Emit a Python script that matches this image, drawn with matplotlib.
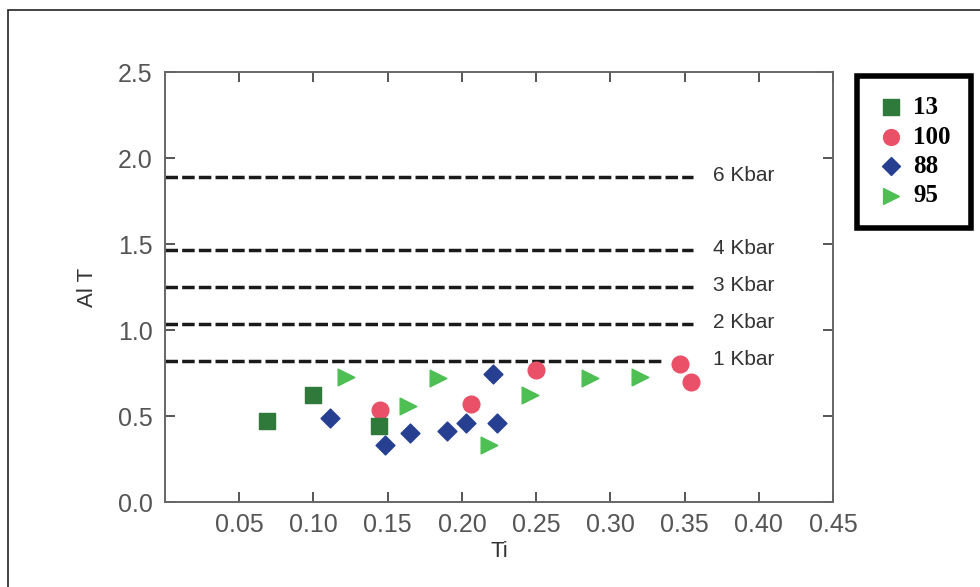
import matplotlib
matplotlib.use("Agg")
import matplotlib.pyplot as plt
from matplotlib.patches import Rectangle

# sample groups: Ti vs Al T
ti_13 = [0.069, 0.100, 0.144]
al_13 = [0.47, 0.62, 0.44]

ti_100 = [0.145, 0.206, 0.250, 0.347, 0.354]
al_100 = [0.535, 0.57, 0.77, 0.80, 0.70]

ti_88 = [0.111, 0.148, 0.165, 0.190, 0.2025, 0.221, 0.2235]
al_88 = [0.49, 0.33, 0.40, 0.41, 0.46, 0.745, 0.46]

ti_95 = [0.122, 0.164, 0.184, 0.218, 0.246, 0.2865, 0.320]
al_95 = [0.725, 0.56, 0.72, 0.33, 0.62, 0.72, 0.725]

# pressure isobars: (Al T level, x end, label)
bar_levels = [1.89, 1.465, 1.25, 1.035, 0.82]
bar_ends = [0.356, 0.356, 0.356, 0.356, 0.336]
bar_labels = ["6 Kbar", "4 Kbar", "3 Kbar", "2 Kbar", "1 Kbar"]

xticks = [0.05, 0.10, 0.15, 0.20, 0.25, 0.30, 0.35, 0.40, 0.45]
yticks = [0.0, 0.5, 1.0, 1.5, 2.0, 2.5]

plt.rcParams['font.family'] = ['Liberation Sans', 'DejaVu Sans']

fig = plt.figure(figsize=(9.8, 5.87), dpi=100, facecolor='w')
# thin frame around the figure
fig.patches.append(Rectangle((8 / 980, -0.1), 1.2, 1 - 10 / 587 + 0.1,
                             transform=fig.transFigure, fill=False,
                             edgecolor='#222222', linewidth=1.2))

ax = fig.add_axes([0.1684, 0.1448, 0.6816, 0.7325])

for lev, xe, lab in zip(bar_levels, bar_ends, bar_labels):
    ax.plot([0, xe], [lev, lev], color='#1a1a1a', linewidth=2.5,
            dashes=(3.6, 1.2), zorder=1)
    ax.text(0.369, lev + 0.01, lab, fontsize=15, color='#333333',
            va='center', ha='left')

ms = 12
ax.scatter(ti_13, al_13, marker='s', s=ms ** 2, color='#2f7a3a', zorder=3, label='13')
ax.scatter(ti_100, al_100, marker='o', s=ms ** 2, color='#ea5068', zorder=2, label='100')
ax.scatter(ti_88, al_88, marker='D', s=(ms * 0.8) ** 2, color='#263f91', zorder=3, label='88')
ax.scatter(ti_95, al_95, marker='>', s=ms ** 2, color='#4dbf53', zorder=3, label='95')

ax.set_xlim(0, 0.45)
ax.set_ylim(0, 2.5)
ax.set_xticks(xticks)
ax.set_xticklabels(["%.2f" % t for t in xticks])
ax.set_yticks(yticks)
ax.set_yticklabels(["%.1f" % t for t in yticks])

ax.tick_params(direction='in', length=7, width=1.4, color='#555555',
               labelsize=18, labelcolor='#555555', top=True, right=True)
ax.tick_params(axis='x', pad=8)
ax.tick_params(axis='y', pad=9)
for sp in ax.spines.values():
    sp.set_color('#666666')
    sp.set_linewidth(1.4)

ax.set_xlabel("Ti", fontsize=16, color='#333333', labelpad=3)
ax.set_ylabel("Al T", fontsize=16, color='#333333', labelpad=14)

leg = ax.legend(loc='upper left', bbox_to_anchor=(857 / 980, 1 - 76 / 587),
                bbox_transform=fig.transFigure, frameon=True, fancybox=False,
                framealpha=1,
                prop={'family': 'Liberation Serif', 'weight': 'bold', 'size': 18},
                handletextpad=0.35, labelspacing=0.26, borderpad=0.8,
                handlelength=1.1, markerscale=0.95, borderaxespad=0)
leg.get_frame().set_edgecolor('black')
leg.get_frame().set_linewidth(4)

fig.savefig("out.png", dpi=100, facecolor='w')
